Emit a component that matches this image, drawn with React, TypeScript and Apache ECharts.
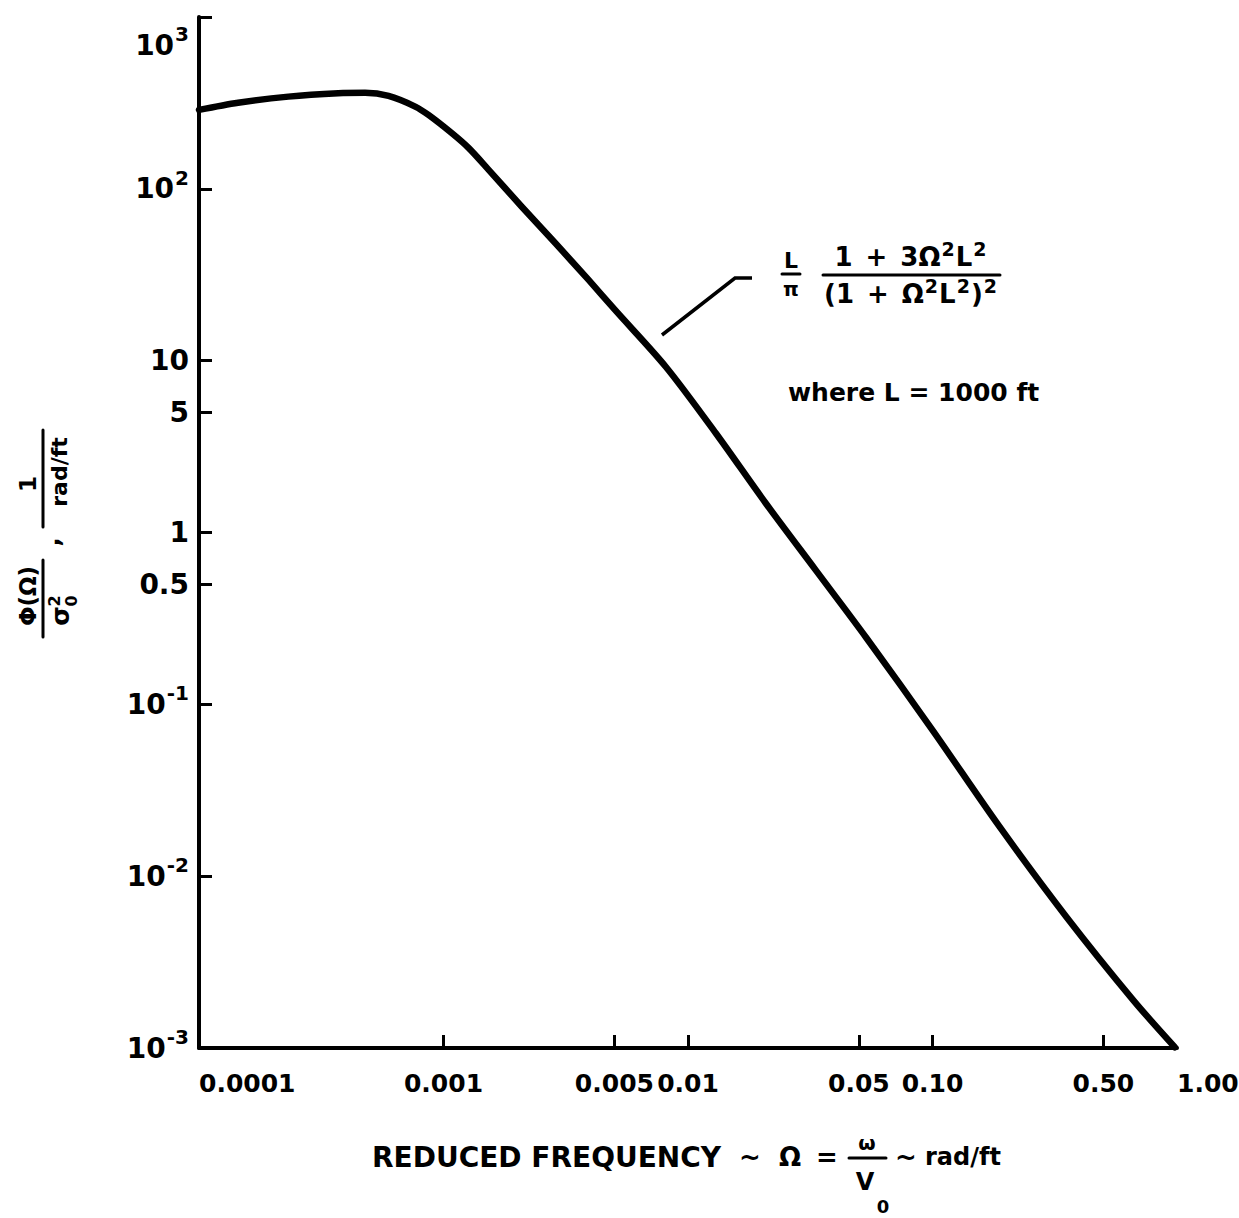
import React, { useEffect, useRef } from 'react';
import * as echarts from 'echarts';

// Reduced frequency (rad/ft) and normalised PSD
const omega = [0.0001, 0.0001445, 0.000232, 0.000371, 0.000478, 0.000596, 0.000766, 0.000868, 0.00108, 0.001266, 0.00153, 0.00209, 0.00287, 0.00393, 0.00505, 0.00811, 0.013, 0.0208, 0.0333, 0.0535, 0.1, 0.188, 0.353, 0.662, 0.98];
const psd = [288, 317, 344, 360, 362, 347, 301, 269, 211, 173, 129, 78.7, 48.2, 29.4, 19.6, 9.22, 3.78, 1.48, 0.604, 0.245, 0.0708, 0.0194, 0.00579, 0.0019, 0.00101];

const yTickValues = [1000, 100, 10, 5, 1, 0.5, 0.1, 0.01, 0.001];
const yLabelBase = ['10', '10', '10', '5', '1', '0.5', '10', '10', '10'];
const yLabelExp = ['3', '2', '', '', '', '', '-1', '-2', '-3'];

const xTickValues = [0.001, 0.005, 0.01, 0.05, 0.1, 0.5];
const xLabelValues = [0.0001, 0.001, 0.005, 0.01, 0.05, 0.1, 0.5, 1];
const xLabelTexts = ['0.0001', '0.001', '0.005', '0.01', '0.05', '0.10', '0.50', '1.00'];

const F = 'DejaVu Sans';

function nearestIndex(values: number[], v: number) {
  let best = 0;
  let bd = Infinity;
  values.forEach((t, i) => {
    const d = Math.abs(Math.log10(t) - Math.log10(v));
    if (d < bd) { bd = d; best = i; }
  });
  return best;
}

export default function App() {
  const ref = useRef<HTMLDivElement>(null);
  useEffect(() => {
    if (!ref.current) return;
    const chart = echarts.init(ref.current, undefined, { renderer: 'svg' });
    const txt = (x: number, y: number, text: string, size: number, align = 'center', va = 'middle', extra: any = {}) => ({
      type: 'text', x, y,
      style: { text, fontFamily: F, fontWeight: 'bold', fontSize: size, fill: '#000', align, verticalAlign: va, ...extra },
    });
    const ln = (x1: number, y1: number, x2: number, y2: number, w = 3) => ({
      type: 'line', shape: { x1, y1, x2, y2 }, style: { stroke: '#000', lineWidth: w, lineCap: 'round' },
    });
    const base = { fontFamily: F, fontWeight: 'bold', color: '#000', fill: '#000' };
    const formulaRich = {
      b: { ...base, fontSize: 26, lineHeight: 26, verticalAlign: 'bottom' },
      p: { ...base, fontSize: 26, lineHeight: 26, verticalAlign: 'bottom', padding: [0, 13, 0, 13] },
      s: { ...base, fontSize: 19, lineHeight: 19, verticalAlign: 'bottom', padding: [0, 1, 12, 1] },
    };
    chart.setOption({
      animation: false,
      backgroundColor: '#fff',
      grid: { left: 199, right: 62, top: 17, bottom: 170, outerBoundsMode: 'none' },
      xAxis: {
        type: 'log', logBase: 10, min: 0.0001, max: 1,
        axisLine: { show: true, lineStyle: { color: '#000', width: 4 } },
        axisTick: { show: true, inside: true, length: 13, customValues: xTickValues, lineStyle: { color: '#000', width: 3 } },
        minorTick: { show: false },
        splitLine: { show: false },
        axisLabel: {
          customValues: xLabelValues,
          margin: 23,
          fontFamily: F, fontWeight: 'bold', fontSize: 25, color: '#000',
          alignMinLabel: 'left', alignMaxLabel: 'left',
          formatter: (v: number) => xLabelTexts[nearestIndex(xLabelValues, v)],
        },
      },
      yAxis: {
        type: 'log', logBase: 10, min: 0.001, max: 1000,
        axisLine: { show: true, lineStyle: { color: '#000', width: 4 } },
        axisTick: { show: true, inside: true, length: 13, customValues: yTickValues, lineStyle: { color: '#000', width: 3 } },
        minorTick: { show: false },
        splitLine: { show: false },
        axisLabel: {
          customValues: yTickValues,
          margin: 10,
          fontFamily: F, fontWeight: 'bold', fontSize: 28, lineHeight: 28, color: '#000',
          rich: {
            b: { ...base, fontSize: 28, lineHeight: 28, verticalAlign: 'bottom' },
            s: { ...base, fontSize: 20, lineHeight: 20, verticalAlign: 'bottom', padding: [0, 0, 15, 1] },
          },
          formatter: (v: number) => {
            const i = nearestIndex(yTickValues, v);
            const lbl = '{b|' + yLabelBase[i] + '}' + (yLabelExp[i] ? '{s|' + yLabelExp[i] + '}' : '');
            return i === 0 ? '\n\n' + lbl : lbl;
          },
        },
      },
      series: [{
        type: 'line',
        data: omega.map((o, i) => [o, psd[i]]),
        showSymbol: false,
        smooth: 0.3,
        lineStyle: { color: '#000', width: 6.5, cap: 'round', join: 'round' },
      }],
      graphic: [
        // y axis title (rotated)
        {
          type: 'group', x: 43, y: 530, rotation: Math.PI / 2,
          children: [
            ln(-107, 0, -30, 0, 3),
            txt(-66, -4, 'Φ(Ω)', 23, 'center', 'bottom'),
            txt(-86, 5, 'σ', 25, 'center', 'top'),
            txt(-71, 3, '2', 16, 'center', 'top'),
            txt(-71, 20, '0', 16, 'center', 'top'),
            txt(-12, 8, ',', 24, 'center', 'middle'),
            ln(3, 0, 100, 0, 3),
            txt(46, -4, '1', 23, 'center', 'bottom'),
            txt(58, 5, 'rad/ft', 22, 'center', 'top'),
          ],
        },
        // leader line
        { type: 'polyline', shape: { points: [[662, 335], [735, 278], [752, 278]] }, style: { stroke: '#000', lineWidth: 3.5, fill: null } },
        // L / pi
        txt(791, 271, 'L', 22, 'center', 'bottom'),
        ln(782, 274, 800, 274, 3),
        txt(791, 279, 'π', 20, 'center', 'top'),
        // main fraction
        { type: 'text', x: 911, y: 270, style: { text: '{b|1}{p|+}{b|3Ω}{s|2}{b|L}{s|2}', rich: formulaRich, align: 'center', verticalAlign: 'bottom', fill: '#000' } },
        ln(823, 275, 1000, 275, 3),
        { type: 'text', x: 911, y: 281, style: { text: '{b|(1}{p|+}{b|Ω}{s|2}{b|L}{s|2}{b|)}{s|2}', rich: formulaRich, align: 'center', verticalAlign: 'top', fill: '#000' } },
        txt(788, 392, 'where L = 1000 ft', 25, 'left', 'middle'),
        // x axis title
        txt(372, 1157, 'REDUCED FREQUENCY', 28, 'left', 'middle'),
        txt(750, 1157, '~', 26, 'center', 'middle'),
        txt(790, 1157, 'Ω', 26, 'center', 'middle'),
        txt(827, 1157, '=', 26, 'center', 'middle'),
        txt(867, 1143, 'ω', 20, 'center', 'middle'),
        ln(849, 1158, 886, 1158, 3),
        txt(865, 1182, 'V', 24, 'center', 'middle'),
        txt(883, 1206, '0', 18, 'center', 'middle'),
        txt(906, 1157, '~', 26, 'center', 'middle'),
        txt(925, 1157, 'rad/ft', 24, 'left', 'middle'),
      ],
    });
    return () => chart.dispose();
  }, []);
  return <div ref={ref} style={{ position: 'absolute', left: 0, top: 0, width: 1239, height: 1218 }} />;
}
